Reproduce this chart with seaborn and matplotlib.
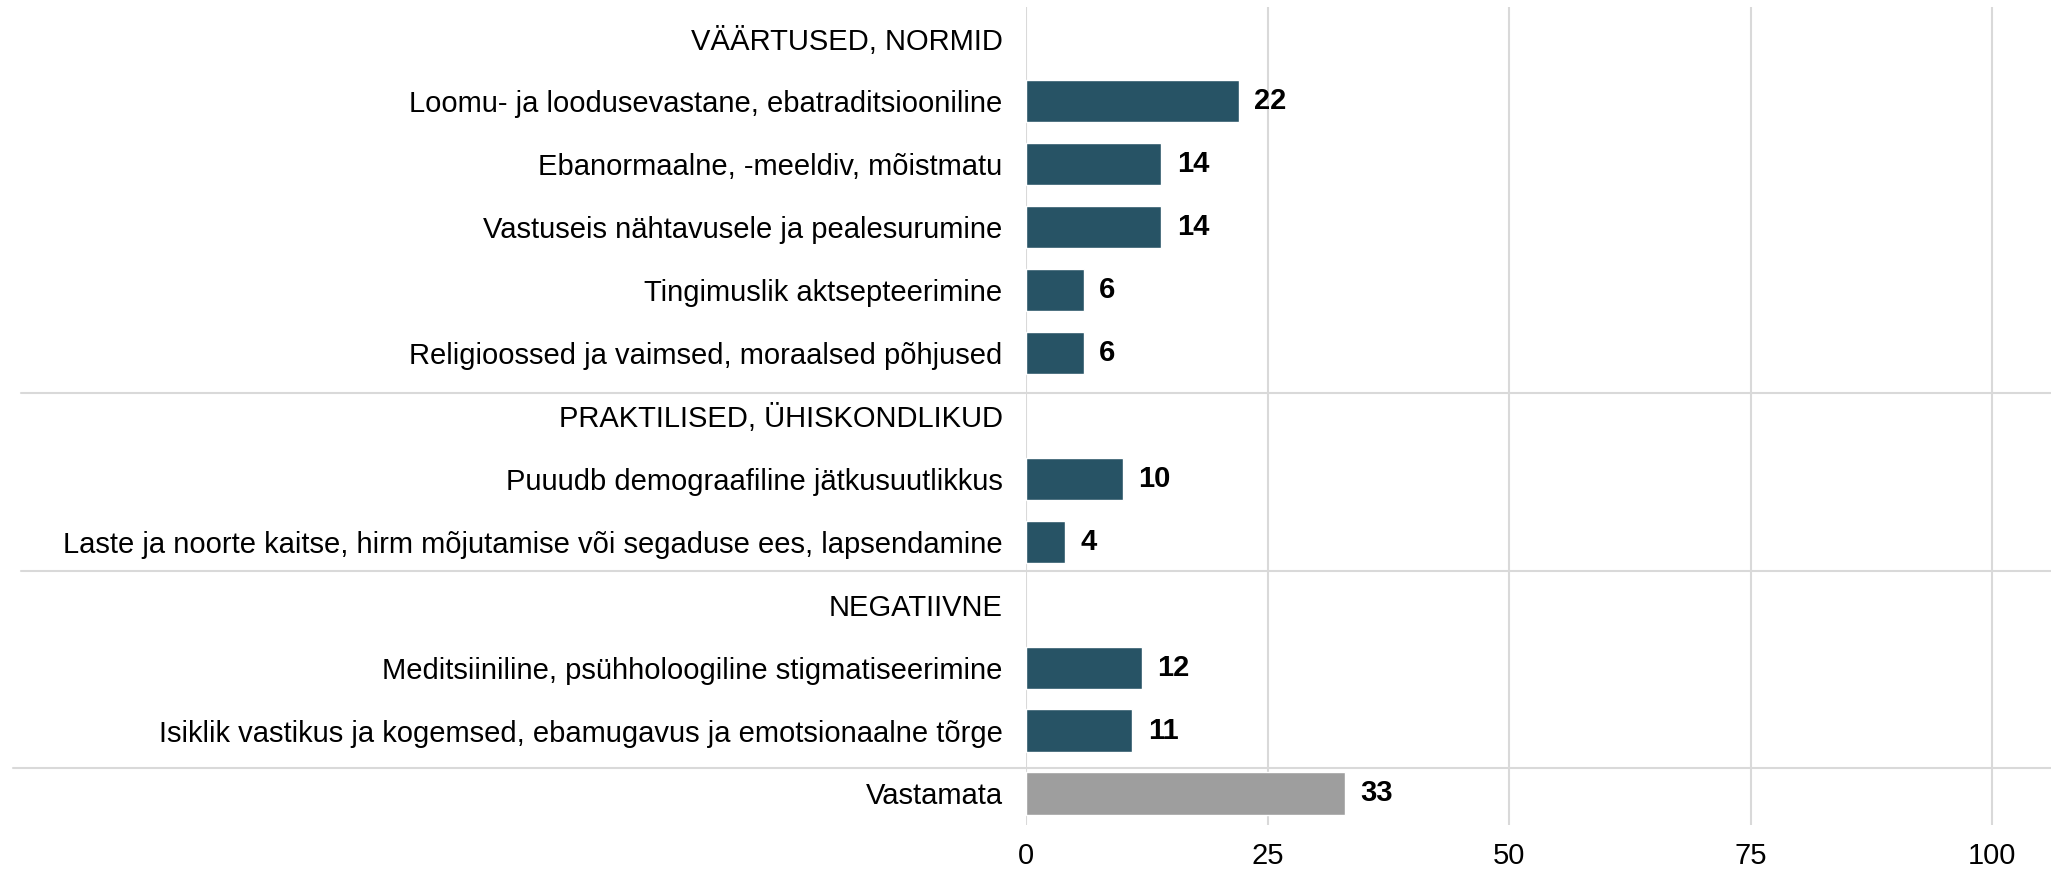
import numpy as np
import pandas as pd
import seaborn as sns
import matplotlib.pyplot as plt
from matplotlib.transforms import blended_transform_factory

# rows in display order; group headers have no value
categories = [
    "VÄÄRTUSED, NORMID",
    "Loomu- ja loodusevastane, ebatraditsiooniline",
    "Ebanormaalne, -meeldiv, mõistmatu",
    "Vastuseis nähtavusele ja pealesurumine",
    "Tingimuslik aktsepteerimine",
    "Religioossed ja vaimsed, moraalsed põhjused",
    "PRAKTILISED, ÜHISKONDLIKUD",
    "Puuudb demograafiline jätkusuutlikkus",
    "Laste ja noorte kaitse, hirm mõjutamise või segaduse ees, lapsendamine",
    "NEGATIIVNE",
    "Meditsiiniline, psühholoogiline stigmatiseerimine",
    "Isiklik vastikus ja kogemsed, ebamugavus ja emotsionaalne tõrge",
    "Vastamata",
]
values = [np.nan, 22, 14, 14, 6, 6, np.nan, 10, 4, np.nan, 12, 11, 33]
ticks = [0, 25, 50, 75, 100]

MAIN_COLOR = "#275365"
NONE_COLOR = "#9e9e9e"
GRID_COLOR = "#d9d9d9"
FS = 21

def main():
    df = pd.DataFrame({"label": categories, "value": values}).dropna()
    palette = {lab: (NONE_COLOR if lab == "Vastamata" else MAIN_COLOR) for lab in df["label"]}

    sns.set_style("white")
    plt.rcParams["font.family"] = ["Liberation Sans", "DejaVu Sans"]

    fig = plt.figure(figsize=(20.51, 8.72), dpi=100)
    ax = fig.add_axes([0.5003, 0.054, 0.4997, 0.938])

    sns.barplot(data=df, x="value", y="label", hue="label", order=categories,
                palette=palette, legend=False, width=0.67, ax=ax, errorbar=None,
                saturation=1)

    for c in ax.containers:
        ax.bar_label(c, fmt="%d", padding=11, fontsize=FS, fontweight="bold",
                     color="black")

    ax.set_xlim(0, 106.1)
    ax.set_ylim(len(categories) - 0.5, -0.5)
    ax.set_xticks(ticks)
    ax.set_xlabel("")
    ax.set_ylabel("")
    ax.tick_params(axis="y", length=0, pad=17, labelsize=FS, labelcolor="black")
    ax.tick_params(axis="x", length=0, pad=12, labelsize=FS, labelcolor="black")
    for s in ax.spines.values():
        s.set_visible(False)
    for t in ticks:
        ax.axvline(t, color=GRID_COLOR, lw=1.5, zorder=0)

    # separators between the groups, running into the label area
    trans = blended_transform_factory(fig.transFigure, ax.transData)
    for y, x0 in [(5.63, 0.010), (8.47, 0.010), (11.59, 0.0065)]:
        ax.plot([x0, 1.0], [y, y], transform=trans, color=GRID_COLOR,
                lw=1.5, clip_on=False, zorder=0)

    fig.savefig("out.png", dpi=100)
    plt.close(fig)

if __name__ == "__main__":
    main()
